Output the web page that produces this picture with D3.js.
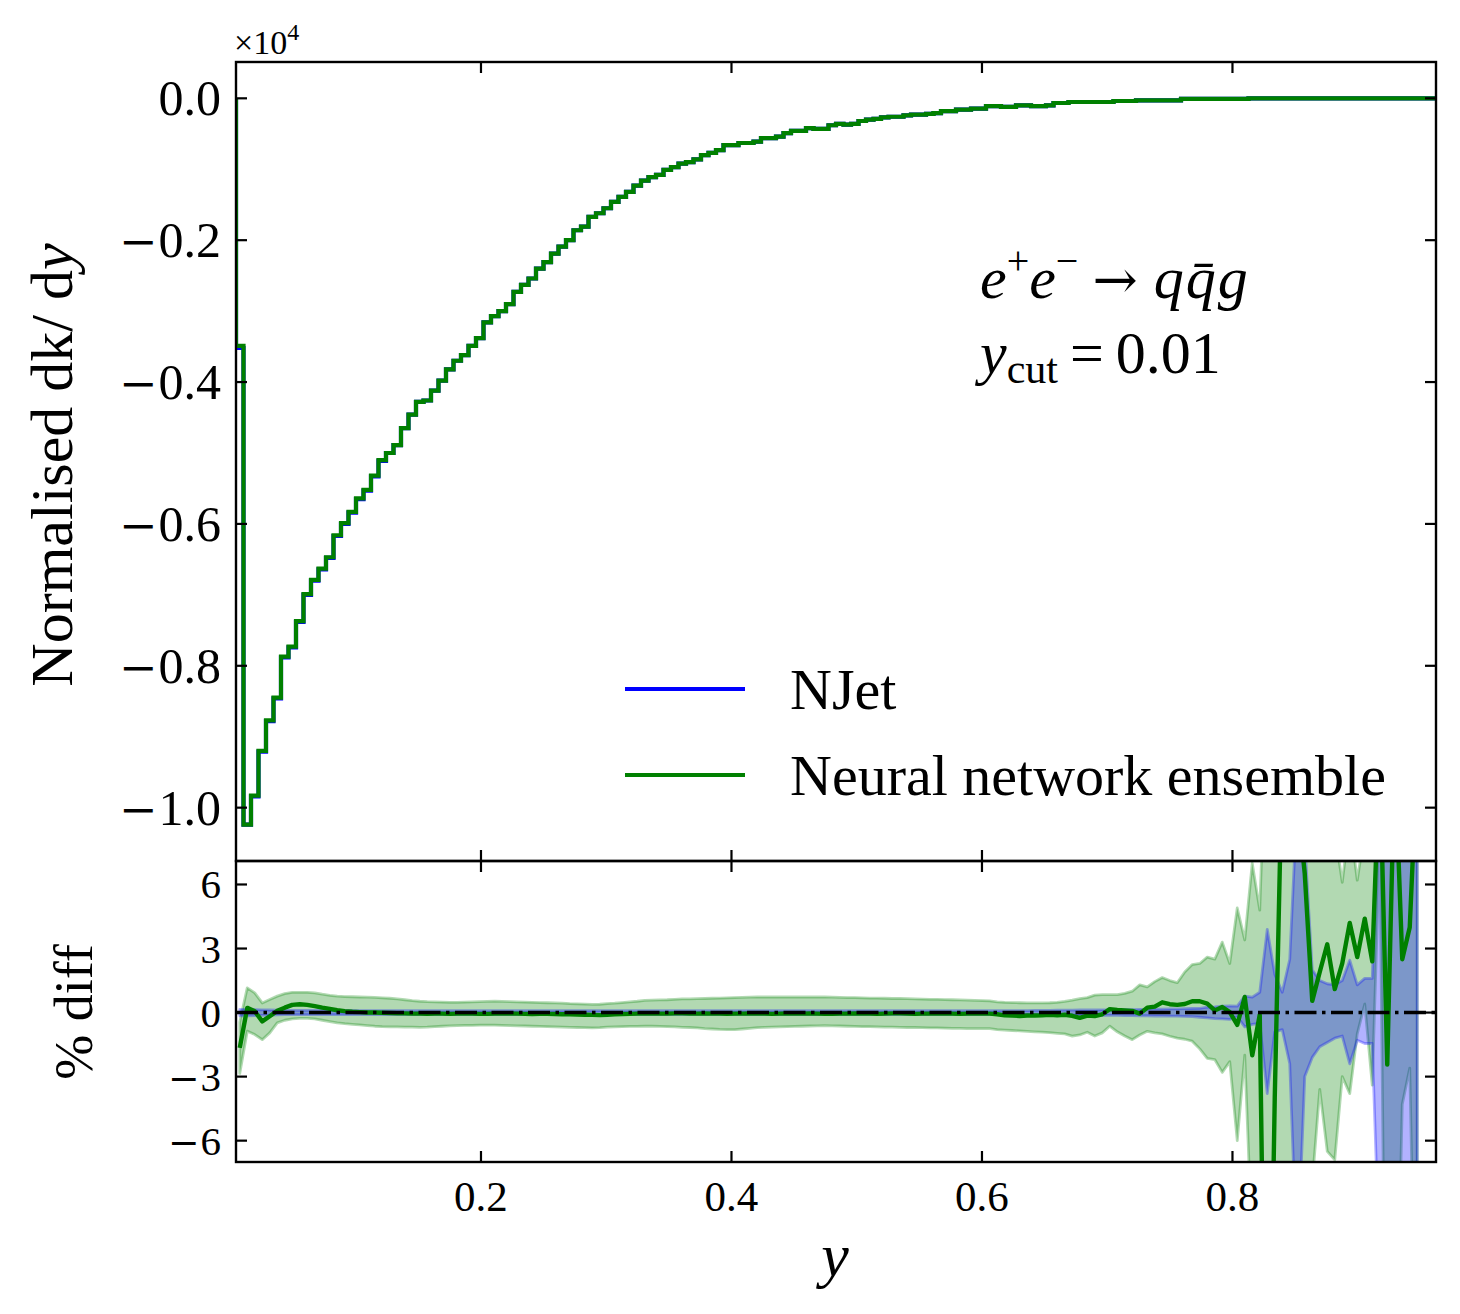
<!DOCTYPE html>
<html><head><meta charset="utf-8">
<script src="https://cdn.jsdelivr.net/npm/d3@7"></script>
<style>
body{margin:0;background:#fff;}
svg{display:block;}
text{font-family:"Liberation Serif","Times New Roman",serif;fill:#000;}
</style>
</head><body>
<svg id="chart" width="1460" height="1314"></svg>
<script>
// ---------------- data ----------------
const binRange = [0.0044, 0.9625];
const nBins = 160;

// Normalised dk/dy (units of 1e4), one value per bin
const nnTop = [
-0.349,-1.024,-0.983,-0.920,-0.877,-0.845,-0.787,-0.773,-0.737,-0.699,
-0.679,-0.663,-0.647,-0.616,-0.599,-0.583,-0.564,-0.552,-0.532,-0.510,
-0.500,-0.489,-0.465,-0.446,-0.428,-0.426,-0.412,-0.398,-0.382,-0.370,
-0.362,-0.349,-0.338,-0.316,-0.307,-0.300,-0.290,-0.273,-0.263,-0.254,
-0.240,-0.231,-0.219,-0.209,-0.200,-0.186,-0.181,-0.167,-0.162,-0.155,
-0.146,-0.139,-0.132,-0.123,-0.116,-0.111,-0.108,-0.101,-0.097,-0.092,
-0.090,-0.086,-0.080,-0.077,-0.073,-0.066,-0.066,-0.063,-0.063,-0.061,
-0.056,-0.056,-0.054,-0.049,-0.046,-0.046,-0.042,-0.043,-0.043,-0.038,
-0.036,-0.037,-0.036,-0.032,-0.030,-0.029,-0.027,-0.026,-0.026,-0.024,
-0.023,-0.023,-0.022,-0.021,-0.018,-0.018,-0.016,-0.016,-0.0145,-0.0145,
-0.011,-0.011,-0.012,-0.012,-0.010,-0.010,-0.011,-0.011,-0.010,-0.0066,
-0.0066,-0.0052,-0.0052,-0.0052,-0.0052,-0.0052,-0.0052,-0.0038,-0.0038,-0.0038,
-0.0028,-0.0028,-0.0028,-0.0028,-0.0028,-0.0028,-0.0009,-0.0009,-0.0009,-0.0009,
-0.0009,-0.0009,-0.0009,-0.0009,-0.0009,-0.0002,-0.0002,-0.0002,-0.0002,-0.0002,
-0.0002,-0.0002,-0.0002,-0.0002,-0.0002,-0.0002,-0.0002,-0.0002,-0.0002,-0.0002,
-0.0002,-0.0002,-0.0002,-0.0002,-0.0002,-0.0002,-0.0002,-0.0002,-0.0002,-0.0002
];
const njetTop = [
-0.352,-1.024,-0.984,-0.921,-0.878,-0.846,-0.788,-0.774,-0.738,-0.700,
-0.680,-0.664,-0.648,-0.617,-0.600,-0.584,-0.565,-0.553,-0.533,-0.511,
-0.500,-0.489,-0.465,-0.446,-0.428,-0.426,-0.412,-0.398,-0.382,-0.370,
-0.362,-0.349,-0.338,-0.316,-0.307,-0.300,-0.290,-0.273,-0.263,-0.254,
-0.240,-0.231,-0.219,-0.209,-0.200,-0.186,-0.181,-0.167,-0.162,-0.155,
-0.146,-0.139,-0.132,-0.123,-0.116,-0.111,-0.108,-0.101,-0.097,-0.092,
-0.090,-0.086,-0.080,-0.077,-0.073,-0.066,-0.066,-0.063,-0.063,-0.061,
-0.056,-0.056,-0.054,-0.049,-0.046,-0.046,-0.042,-0.043,-0.043,-0.038,
-0.036,-0.037,-0.036,-0.032,-0.030,-0.029,-0.027,-0.026,-0.026,-0.024,
-0.023,-0.023,-0.022,-0.021,-0.018,-0.018,-0.016,-0.016,-0.0145,-0.0145,
-0.011,-0.011,-0.012,-0.012,-0.010,-0.010,-0.011,-0.011,-0.010,-0.0066,
-0.0066,-0.0052,-0.0052,-0.0052,-0.0052,-0.0052,-0.0052,-0.0038,-0.0038,-0.0038,
-0.0028,-0.0028,-0.0028,-0.0028,-0.0028,-0.0028,-0.0009,-0.0009,-0.0009,-0.0009,
-0.0009,-0.0009,-0.0009,-0.0009,-0.0009,-0.0002,-0.0002,-0.0002,-0.0002,-0.0002,
-0.0002,-0.0002,-0.0002,-0.0002,-0.0002,-0.0002,-0.0002,-0.0002,-0.0002,-0.0002,
-0.0002,-0.0002,-0.0002,-0.0002,-0.0002,-0.0002,-0.0002,-0.0002,-0.0002,-0.0002
];

// % difference of the network ensemble w.r.t. NJet, at bin centres (first 158 bins)
const ratioNN = [
-1.65,0.22,0.06,-0.41,-0.17,0.08,0.23,0.36,0.39,0.36,
0.30,0.23,0.17,0.11,0.07,0.04,0.02,0.00,0.00,-0.01,
-0.02,-0.03,-0.04,-0.05,-0.05,-0.06,-0.05,-0.05,-0.06,-0.05,
-0.04,-0.05,-0.06,-0.06,-0.05,-0.05,-0.04,-0.05,-0.06,-0.07,
-0.06,-0.06,-0.07,-0.08,-0.08,-0.09,-0.10,-0.11,-0.12,-0.10,
-0.08,-0.07,-0.06,-0.05,-0.05,-0.04,-0.05,-0.05,-0.04,-0.04,
-0.05,-0.05,-0.04,-0.05,-0.05,-0.06,-0.05,-0.05,-0.04,-0.05,
-0.05,-0.06,-0.05,-0.04,-0.05,-0.05,-0.04,-0.05,-0.06,-0.06,
-0.05,-0.05,-0.04,-0.05,-0.05,-0.06,-0.05,-0.04,-0.04,-0.05,
-0.06,-0.05,-0.05,-0.04,-0.05,-0.05,-0.06,-0.05,-0.05,-0.05,
-0.05,-0.08,-0.13,-0.14,-0.16,-0.14,-0.14,-0.13,-0.11,-0.13,
-0.10,-0.15,-0.25,-0.14,-0.16,-0.08,0.16,0.12,0.10,0.08,
-0.05,0.23,0.28,0.48,0.39,0.36,0.40,0.53,0.53,0.42,
0.10,0.26,0.02,-0.58,0.73,-2.0,-0.1,-25,-4,12,
14,10,6.5,0.55,1.9,3.2,1.1,2.3,4.2,2.6,
4.4,2.4,12,-2.44,12,2.5,4.0,12
];
const nnLow = [
-2.85,-0.87,-1.03,-1.27,-0.95,-0.48,-0.36,-0.30,-0.27,-0.27,
-0.30,-0.36,-0.42,-0.48,-0.52,-0.55,-0.58,-0.61,-0.64,-0.66,
-0.67,-0.67,-0.68,-0.68,-0.69,-0.68,-0.66,-0.64,-0.62,-0.61,
-0.60,-0.60,-0.59,-0.59,-0.59,-0.60,-0.61,-0.62,-0.63,-0.64,
-0.65,-0.66,-0.67,-0.68,-0.69,-0.70,-0.71,-0.72,-0.71,-0.68,
-0.67,-0.66,-0.65,-0.65,-0.64,-0.64,-0.65,-0.66,-0.67,-0.69,
-0.70,-0.72,-0.75,-0.77,-0.79,-0.80,-0.80,-0.77,-0.74,-0.71,
-0.69,-0.68,-0.67,-0.66,-0.65,-0.64,-0.63,-0.62,-0.61,-0.62,
-0.63,-0.64,-0.65,-0.66,-0.66,-0.67,-0.68,-0.68,-0.69,-0.70,
-0.70,-0.71,-0.72,-0.72,-0.73,-0.74,-0.74,-0.75,-0.75,-0.75,
-0.75,-0.80,-0.82,-0.84,-0.86,-0.88,-0.90,-0.92,-0.94,-0.97,
-1.00,-1.10,-1.05,-0.92,-1.10,-0.95,-0.64,-0.90,-1.10,-1.27,
-1.05,-0.88,-0.95,-1.00,-1.11,-1.20,-1.25,-1.34,-1.70,-2.15,
-2.20,-2.80,-2.30,-6.0,-2.0,-11,-9,-40,-20,-15,
-12,-25,-12,-8,-3.6,-6.5,-6.9,-3.0,-3.8,-1.0,
0.4,-3.4,8,-25,-20,-4.3,-2.6,-20
];
const nnHigh = [
-0.45,1.16,0.92,0.45,0.61,0.77,0.89,0.95,0.95,0.95,
0.92,0.86,0.81,0.77,0.75,0.74,0.73,0.72,0.71,0.69,
0.67,0.64,0.60,0.56,0.53,0.51,0.50,0.49,0.48,0.48,
0.49,0.50,0.51,0.52,0.53,0.52,0.51,0.50,0.49,0.48,
0.47,0.46,0.45,0.44,0.42,0.41,0.40,0.38,0.39,0.42,
0.44,0.47,0.50,0.53,0.57,0.58,0.59,0.60,0.62,0.64,
0.64,0.65,0.66,0.67,0.68,0.69,0.70,0.71,0.72,0.73,
0.73,0.73,0.73,0.73,0.73,0.73,0.73,0.73,0.73,0.72,
0.71,0.70,0.70,0.69,0.68,0.68,0.67,0.66,0.66,0.65,
0.64,0.63,0.62,0.62,0.61,0.60,0.59,0.58,0.57,0.56,
0.55,0.50,0.48,0.47,0.46,0.45,0.45,0.45,0.46,0.48,
0.52,0.58,0.65,0.70,0.82,0.84,0.84,0.84,0.90,1.00,
1.30,1.20,1.45,1.64,1.50,1.40,1.90,2.25,2.30,2.60,
2.50,3.30,2.30,4.9,3.4,7.0,4.8,15,18,35,
30,30,25,9,7.5,10,8.5,6.1,9,6.2,
8.5,8,18,20,40,15,12,40
];
// NJet relative uncertainty band (%)
const njetLow = [
-0.15,-0.15,-0.14,-0.13,-0.12,-0.11,-0.10,-0.10,-0.10,-0.10,
-0.10,-0.10,-0.10,-0.10,-0.10,-0.10,-0.09,-0.09,-0.09,-0.09,
-0.09,-0.09,-0.09,-0.09,-0.09,-0.09,-0.09,-0.09,-0.09,-0.09,
-0.09,-0.09,-0.09,-0.09,-0.09,-0.09,-0.09,-0.09,-0.09,-0.09,
-0.09,-0.09,-0.09,-0.09,-0.09,-0.09,-0.09,-0.09,-0.09,-0.09,
-0.09,-0.09,-0.09,-0.09,-0.09,-0.09,-0.09,-0.09,-0.09,-0.09,
-0.09,-0.09,-0.09,-0.09,-0.09,-0.09,-0.09,-0.09,-0.09,-0.09,
-0.09,-0.09,-0.09,-0.09,-0.09,-0.09,-0.09,-0.09,-0.09,-0.09,
-0.09,-0.09,-0.09,-0.09,-0.09,-0.09,-0.09,-0.09,-0.09,-0.09,
-0.09,-0.09,-0.09,-0.09,-0.09,-0.09,-0.09,-0.09,-0.09,-0.09,
-0.09,-0.09,-0.09,-0.09,-0.09,-0.09,-0.10,-0.10,-0.10,-0.11,
-0.11,-0.11,-0.12,-0.12,-0.12,-0.13,-0.13,-0.13,-0.14,-0.14,
-0.15,-0.15,-0.16,-0.16,-0.17,-0.17,-0.18,-0.19,-0.22,-0.25,
-0.28,-0.30,-0.32,-0.20,-0.67,-0.55,-0.50,-3.8,-0.9,-0.8,
-2.4,-12,-3.0,-2.1,-1.6,-1.4,-1.2,-1.1,-2.4,-1.3,
-1.45,-1.45,-12,-12,-12,-12,-12,-12
];
const njetHigh = [
0.15,0.15,0.14,0.13,0.12,0.11,0.10,0.10,0.10,0.10,
0.10,0.10,0.10,0.10,0.10,0.10,0.09,0.09,0.09,0.09,
0.09,0.09,0.09,0.09,0.09,0.09,0.09,0.09,0.09,0.09,
0.09,0.09,0.09,0.09,0.09,0.09,0.09,0.09,0.09,0.09,
0.09,0.09,0.09,0.09,0.09,0.09,0.09,0.09,0.09,0.09,
0.09,0.09,0.09,0.09,0.09,0.09,0.09,0.09,0.09,0.09,
0.09,0.09,0.09,0.09,0.09,0.09,0.09,0.09,0.09,0.09,
0.09,0.09,0.09,0.09,0.09,0.09,0.09,0.09,0.09,0.09,
0.09,0.09,0.09,0.09,0.09,0.09,0.09,0.09,0.09,0.09,
0.09,0.09,0.09,0.09,0.09,0.09,0.09,0.09,0.09,0.09,
0.09,0.09,0.09,0.09,0.09,0.09,0.10,0.10,0.10,0.11,
0.11,0.11,0.12,0.12,0.12,0.13,0.13,0.13,0.14,0.14,
0.15,0.15,0.16,0.16,0.17,0.17,0.18,0.19,0.20,0.25,
0.27,0.30,0.31,0.30,0.77,0.72,0.95,3.9,1.8,0.95,
2.5,10,8,2.0,1.5,1.35,1.3,1.5,2.45,1.3,
1.6,1.6,12,12,12,12,12,12
];

const topTicks = [0.0, -0.2, -0.4, -0.6, -0.8, -1.0];
const topTickLabels = ["0.0", "\u22120.2", "\u22120.4", "\u22120.6", "\u22120.8", "\u22121.0"];
const xTicks = [0.2, 0.4, 0.6, 0.8];
const xTickLabels = ["0.2", "0.4", "0.6", "0.8"];
const ratioTicks = [6, 3, 0, -3, -6];
const ratioTickLabels = ["6", "3", "0", "\u22123", "\u22126"];
const seriesNames = ["NJet", "Neural network ensemble"];

// ---------------- layout ----------------
const L = 236, R = 1436;
const topT = 62, topB = 861, botT = 861, botB = 1162;
const cGreen = "#008000", cBlue = "#0000ff";

const svg = d3.select("#chart");
const x = d3.scaleLinear().domain(binRange).range([L, R]);
const yTop = d3.scaleLinear().domain([-1.0752, 0.0512]).range([topB, topT]);
const yBot = d3.scaleLinear().domain([-7, 7.1]).range([botB, botT]);

const edges = d3.range(nBins + 1).map(i => binRange[0] + i * (binRange[1] - binRange[0]) / nBins);
const centres = d3.range(nBins).map(i => (edges[i] + edges[i + 1]) / 2);

const defs = svg.append("defs");
defs.append("clipPath").attr("id", "clipTop").append("rect")
  .attr("x", L).attr("y", topT).attr("width", R - L).attr("height", topB - topT);
defs.append("clipPath").attr("id", "clipBot").append("rect")
  .attr("x", L).attr("y", botT).attr("width", R - L).attr("height", botB - botT);

// ---------------- top panel ----------------
function stepPoints(vals) {
  const pts = [[edges[0], 0]];
  vals.forEach((v, i) => { pts.push([edges[i], v]); pts.push([edges[i + 1], v]); });
  pts.push([edges[nBins], 0]);
  return pts;
}
const stepLine = d3.line().x(d => x(d[0])).y(d => yTop(d[1]));
const gTop = svg.append("g").attr("clip-path", "url(#clipTop)");
gTop.append("path").attr("d", stepLine(stepPoints(njetTop)))
  .attr("fill", "none").attr("stroke", cBlue).attr("stroke-width", 4.2).attr("stroke-linejoin", "miter");
gTop.append("path").attr("d", stepLine(stepPoints(nnTop)))
  .attr("fill", "none").attr("stroke", cGreen).attr("stroke-width", 4.2).attr("stroke-linejoin", "miter");

// ---------------- bottom panel ----------------
const gBot = svg.append("g").attr("clip-path", "url(#clipBot)");
const nR = ratioNN.length;
const idx = d3.range(nR);
function bandPath(lo, hi) {
  // closed outline (as drawn by fill_between)
  const top = idx.map(i => [x(centres[i]), yBot(hi[i])]);
  const bot = idx.slice().reverse().map(i => [x(centres[i]), yBot(lo[i])]);
  return "M" + top.concat(bot).map(p => p.join(",")).join("L") + "Z";
}
gBot.append("path").attr("d", bandPath(nnLow, nnHigh))
  .attr("fill", cGreen).attr("fill-opacity", 0.3)
  .attr("stroke", cGreen).attr("stroke-opacity", 0.3).attr("stroke-width", 2.8).attr("stroke-linejoin", "round");
gBot.append("path").attr("d", bandPath(njetLow, njetHigh))
  .attr("fill", cBlue).attr("fill-opacity", 0.3)
  .attr("stroke", cBlue).attr("stroke-opacity", 0.3).attr("stroke-width", 2.8).attr("stroke-linejoin", "round");
gBot.append("path")
  .attr("d", d3.line().x(i => x(centres[i])).y(i => yBot(ratioNN[i]))(idx))
  .attr("fill", "none").attr("stroke", cGreen).attr("stroke-width", 4.4).attr("stroke-linejoin", "round");
gBot.append("line").attr("x1", L).attr("x2", R).attr("y1", yBot(0)).attr("y2", yBot(0))
  .attr("stroke", "#000").attr("stroke-width", 3.4).attr("stroke-dasharray", "22,5.5,3.5,5.5");

// ---------------- axes frames & ticks ----------------
const tickLen = 11, tickW = 2.2, spineW = 2.4;
function frame(t, b) {
  svg.append("rect").attr("x", L).attr("y", t).attr("width", R - L).attr("height", b - t)
    .attr("fill", "none").attr("stroke", "#000").attr("stroke-width", spineW);
}
frame(topT, topB);
frame(botT, botB);
const gt = svg.append("g").attr("stroke", "#000").attr("stroke-width", tickW);
function xTicksFor(t, b) {
  xTicks.forEach(v => {
    gt.append("line").attr("x1", x(v)).attr("x2", x(v)).attr("y1", b).attr("y2", b - tickLen);
    gt.append("line").attr("x1", x(v)).attr("x2", x(v)).attr("y1", t).attr("y2", t + tickLen);
  });
}
xTicksFor(topT, topB);
xTicksFor(botT, botB);
topTicks.forEach(v => {
  gt.append("line").attr("x1", L).attr("x2", L + tickLen).attr("y1", yTop(v)).attr("y2", yTop(v));
  gt.append("line").attr("x1", R).attr("x2", R - tickLen).attr("y1", yTop(v)).attr("y2", yTop(v));
});
ratioTicks.forEach(v => {
  gt.append("line").attr("x1", L).attr("x2", L + tickLen).attr("y1", yBot(v)).attr("y2", yBot(v));
  gt.append("line").attr("x1", R).attr("x2", R - tickLen).attr("y1", yBot(v)).attr("y2", yBot(v));
});

// tick labels (long TeX-like minus sign)
function tickLabel(xp, yp, size, label) {
  const t = svg.append("text").attr("x", xp).attr("y", yp).attr("text-anchor", "end").attr("font-size", size);
  if (label[0] === "\u2212") {
    t.append("tspan").attr("font-family", "DejaVu Serif").attr("font-size", size * 0.92).text("\u2212");
    t.append("tspan").attr("dx", size * 0.02).text(label.slice(1));
  } else {
    t.text(label);
  }
}
topTicks.forEach((v, i) => tickLabel(221, yTop(v) + 17, 50, topTickLabels[i]));
ratioTicks.forEach((v, i) => tickLabel(221, yBot(v) + 14, 41, ratioTickLabels[i]));
xTicks.forEach((v, i) => {
  svg.append("text").attr("x", x(v)).attr("y", 1211).attr("text-anchor", "middle")
    .attr("font-size", 43).text(xTickLabels[i]);
});

// offset text ×10^4
const off = svg.append("text").attr("x", 234).attr("y", 54).attr("font-size", 34);
off.append("tspan").text("\u00d710");
off.append("tspan").attr("dy", -14).attr("font-size", 24).text("4");

// axis labels
const yl = svg.append("text").attr("transform", "translate(72,465) rotate(-90)")
  .attr("text-anchor", "middle").attr("font-size", 60);
yl.append("tspan").text("Normalised dk/ d");
yl.append("tspan").attr("font-style", "italic").text("y");

svg.append("text").attr("transform", "translate(92,1012) rotate(-90)")
  .attr("text-anchor", "middle").attr("font-size", 54).text("% diff");

svg.append("text").attr("x", 835).attr("y", 1276).attr("text-anchor", "middle")
  .attr("font-size", 62).attr("font-style", "italic").text("y");

// process annotation
const a1 = svg.append("text").attr("x", 980).attr("y", 298).attr("font-size", 60);
a1.append("tspan").attr("font-style", "italic").text("e");
a1.append("tspan").attr("dy", -24).attr("font-size", 40).text("+");
a1.append("tspan").attr("dy", 24).attr("font-style", "italic").text("e");
a1.append("tspan").attr("dy", -24).attr("font-size", 40).text("\u2212");
a1.append("tspan").attr("dy", 24).attr("dx", 14).attr("font-family", "DejaVu Serif").attr("font-size", 54).text("\u2192");
a1.append("tspan").attr("dx", 16).attr("font-style", "italic").text("q");
a1.append("tspan").attr("dx", 2).attr("font-style", "italic").text("q\u0304");
a1.append("tspan").attr("dx", 2).attr("font-style", "italic").text("g");

const a2 = svg.append("text").attr("x", 980).attr("y", 373).attr("font-size", 60);
a2.append("tspan").attr("font-style", "italic").text("y");
a2.append("tspan").attr("dy", 10).attr("font-size", 42).text("cut");
a2.append("tspan").attr("dy", -10).attr("dx", 12).text("=");
a2.append("tspan").attr("dx", 12).text("0.01");

// legend
const legColors = [cBlue, cGreen];
const legY = [689, 775];
seriesNames.forEach((name, i) => {
  svg.append("line").attr("x1", 625).attr("x2", 745).attr("y1", legY[i]).attr("y2", legY[i])
    .attr("stroke", legColors[i]).attr("stroke-width", 4.2);
  svg.append("text").attr("x", 790).attr("y", legY[i] + 20).attr("font-size", 58).text(name);
});
</script>
</body></html>
